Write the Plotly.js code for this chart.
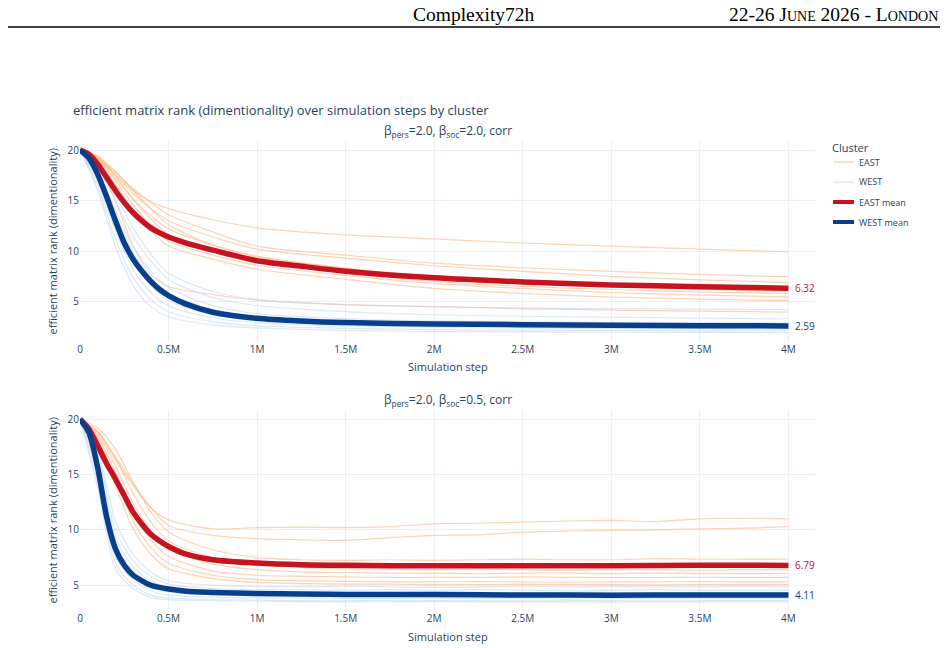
<!DOCTYPE html>
<html>
<head>
<meta charset="utf-8">
<script src="https://cdn.plot.ly/plotly-3.0.1.min.js"></script>
<style>
  html, body { margin: 0; padding: 0; background: #ffffff; }
  #chart { width: 948px; height: 648px; }
</style>
</head>
<body>
<div id="chart"></div>
<script>
// ---- simulation steps ----
const meanSteps = [0, 50000, 100000, 150000, 200000, 250000, 300000, 350000, 400000, 450000, 500000,
  600000, 750000, 1000000, 1250000, 1500000, 2000000, 2500000, 3000000, 3500000, 4000000];
const runStepsA = [0, 100000, 200000, 300000, 400000, 500000, 750000, 1000000, 1500000, 2000000,
  2500000, 3000000, 3500000, 4000000];
const runStepsB = [0, 100000, 200000, 300000, 400000, 500000, 750000, 1000000, 1250000, 1500000,
  1750000, 2000000, 2250000, 2500000, 2750000, 3000000, 3250000, 3500000, 3750000, 4000000];

// ---- panel A: beta_pers=2.0, beta_soc=2.0 ----
const eastMeanA = [20, 19.6, 18.6, 17.3, 16.0, 14.8, 13.8, 13.0, 12.3, 11.8, 11.4, 10.8, 10.1, 9.05, 8.5, 8.0, 7.35, 6.95, 6.65, 6.48, 6.32];
const westMeanA = [20, 19.2, 17.6, 15.4, 13.0, 10.8, 9.2, 8.0, 7.0, 6.2, 5.6, 4.75, 3.95, 3.35, 3.08, 2.92, 2.78, 2.72, 2.66, 2.62, 2.59];

const eastRunsA = [
  [20, 19.2, 17.6, 16.0, 14.9, 14.2, 13.1, 12.3, 11.6, 11.2, 10.8, 10.5, 10.2, 9.93],
  [20, 19.3, 17.8, 16.2, 14.8, 13.6, 11.9, 10.5, 9.6, 8.8, 8.35, 8.0, 7.7, 7.46],
  [20, 19.2, 17.5, 15.7, 14.2, 13.0, 11.4, 10.2, 9.3, 8.55, 8.0, 7.5, 7.15, 6.87],
  [20, 19.3, 17.4, 15.2, 13.5, 12.2, 10.6, 9.5, 8.3, 7.5, 7.0, 6.7, 6.5, 6.35],
  [20, 19.4, 17.9, 16.0, 14.2, 12.6, 10.6, 9.4, 8.3, 7.4, 6.9, 6.5, 6.2, 6.0],
  [20, 19.0, 17.2, 15.1, 13.2, 11.6, 10.0, 9.0, 7.9, 7.0, 6.5, 6.2, 5.95, 5.8],
  [20, 19.1, 17.0, 14.6, 12.5, 11.0, 9.6, 8.6, 7.6, 6.8, 6.3, 5.9, 5.65, 5.47],
  [20, 18.9, 16.6, 14.1, 12.0, 10.5, 9.2, 8.2, 7.2, 6.3, 5.8, 5.45, 5.25, 5.08],
  [20, 18.5, 15.0, 10.5, 7.7, 6.5, 5.7, 5.15, 4.7, 4.5, 4.3, 4.15, 4.05, 3.96]
];
const westRunsA = [
  [20, 18.5, 15.5, 12.3, 9.7, 7.8, 6.0, 5.2, 4.7, 4.5, 4.35, 4.3, 4.25, 4.2],
  [20, 18.3, 15.0, 11.5, 9.0, 7.2, 5.4, 4.6, 4.0, 3.7, 3.55, 3.45, 3.37, 3.3],
  [20, 17.8, 14.0, 10.5, 8.0, 6.4, 4.6, 3.8, 3.3, 3.1, 3.0, 2.95, 2.92, 2.9],
  [20, 17.6, 13.6, 9.9, 7.4, 5.8, 4.2, 3.5, 3.05, 2.9, 2.8, 2.75, 2.72, 2.7],
  [20, 17.2, 12.8, 9.0, 6.6, 5.1, 3.7, 3.1, 2.8, 2.65, 2.58, 2.54, 2.52, 2.5],
  [20, 16.8, 12.0, 8.2, 5.9, 4.6, 3.4, 2.9, 2.6, 2.45, 2.38, 2.34, 2.32, 2.3],
  [20, 16.4, 11.2, 7.4, 5.2, 4.0, 3.0, 2.6, 2.35, 2.22, 2.17, 2.13, 2.11, 2.1],
  [20, 16.0, 10.5, 6.6, 4.5, 3.5, 2.7, 2.4, 2.15, 2.05, 2.0, 1.97, 1.95, 1.93]
];

// ---- panel B: beta_pers=2.0, beta_soc=0.5 ----
const eastMeanB = [20, 19.1, 17.6, 16.0, 14.6, 13.1, 11.6, 10.5, 9.6, 9.0, 8.5, 7.8, 7.3, 7.0, 6.85, 6.8, 6.75, 6.75, 6.75, 6.8, 6.79];
const westMeanB = [20, 18.8, 15.6, 11.2, 8.3, 6.8, 5.9, 5.4, 5.0, 4.8, 4.65, 4.45, 4.35, 4.25, 4.2, 4.17, 4.15, 4.12, 4.1, 4.12, 4.11];

const eastRunsB = [
  [20, 18.8, 16.3, 14.0, 12.0, 10.9, 10.1, 10.2, 10.25, 10.2, 10.3, 10.55, 10.6, 10.7, 10.8, 10.85, 10.75, 11.0, 11.05, 11.0],
  [20, 18.9, 16.6, 14.2, 12.0, 10.4, 9.5, 9.2, 9.1, 9.05, 9.3, 9.5, 9.55, 9.8, 9.9, 9.95, 10.0, 10.1, 10.15, 10.3],
  [20, 19.2, 17.3, 14.3, 11.6, 9.8, 8.2, 7.5, 7.3, 7.25, 7.3, 7.25, 7.3, 7.35, 7.3, 7.3, 7.4, 7.35, 7.35, 7.35],
  [20, 18.9, 16.5, 13.3, 10.7, 9.0, 7.5, 6.9, 6.6, 6.5, 6.45, 6.4, 6.45, 6.4, 6.35, 6.4, 6.4, 6.35, 6.4, 6.38],
  [20, 18.6, 15.8, 12.4, 9.9, 8.3, 6.9, 6.4, 6.2, 6.15, 6.1, 6.1, 6.05, 6.1, 6.1, 6.05, 6.1, 6.05, 6.05, 6.06],
  [20, 18.4, 15.2, 11.6, 9.1, 7.6, 6.3, 5.9, 5.8, 5.75, 5.7, 5.72, 5.7, 5.75, 5.7, 5.7, 5.68, 5.72, 5.7, 5.7],
  [20, 18.2, 14.6, 10.8, 8.4, 7.0, 5.9, 5.5, 5.4, 5.35, 5.3, 5.3, 5.32, 5.3, 5.28, 5.3, 5.3, 5.32, 5.3, 5.3],
  [20, 17.9, 14.0, 10.1, 7.8, 6.5, 5.6, 5.25, 5.15, 5.1, 5.1, 5.05, 5.05, 5.08, 5.05, 5.05, 5.03, 5.05, 5.05, 5.05]
];
const westRunsB = [
  [20, 17.2, 10.8, 7.8, 6.2, 5.4, 5.0, 4.9, 4.85, 4.9, 4.85, 4.8, 4.85, 4.9, 4.85, 4.9, 4.85, 4.85, 4.9, 4.85],
  [20, 16.8, 10.0, 7.2, 5.8, 5.1, 4.7, 4.6, 4.6, 4.55, 4.6, 4.55, 4.6, 4.55, 4.5, 4.55, 4.6, 4.55, 4.55, 4.55],
  [20, 16.4, 9.3, 6.7, 5.4, 4.8, 4.5, 4.4, 4.4, 4.35, 4.35, 4.4, 4.35, 4.3, 4.35, 4.35, 4.3, 4.35, 4.35, 4.35],
  [20, 16.0, 8.7, 6.3, 5.1, 4.6, 4.3, 4.2, 4.2, 4.15, 4.2, 4.15, 4.15, 4.1, 4.15, 4.15, 4.1, 4.15, 4.15, 4.15],
  [20, 15.6, 8.2, 5.9, 4.8, 4.4, 4.15, 4.05, 4.05, 4.0, 4.0, 4.05, 4.0, 4.0, 3.95, 4.0, 4.0, 4.0, 3.95, 4.0],
  [20, 15.0, 7.6, 5.5, 4.5, 4.1, 3.9, 3.85, 3.85, 3.8, 3.8, 3.85, 3.8, 3.8, 3.75, 3.8, 3.8, 3.8, 3.8, 3.8],
  [20, 14.4, 7.0, 5.0, 4.1, 3.85, 3.7, 3.65, 3.6, 3.6, 3.6, 3.62, 3.6, 3.58, 3.6, 3.6, 3.58, 3.6, 3.6, 3.6],
  [20, 13.8, 6.5, 4.7, 3.9, 3.7, 3.6, 3.55, 3.52, 3.5, 3.5, 3.52, 3.5, 3.5, 3.5, 3.48, 3.5, 3.5, 3.5, 3.5]
];

const panelTitles = [
  'β<sub>pers</sub>=2.0, β<sub>soc</sub>=2.0, corr',
  'β<sub>pers</sub>=2.0, β<sub>soc</sub>=0.5, corr'
];
const legendNames = ['EAST', 'WEST', 'EAST mean', 'WEST mean'];

// ---- styling ----
const EAST_RUN = 'rgba(253,174,120,0.55)';
const WEST_RUN = 'rgba(189,215,240,0.55)';
const EAST_MEAN = '#c8121f';
const WEST_MEAN = '#083f8c';
const INK = '#2a3f5f';
const GRID = '#ebf0f8';
const MEAN_W = 5.5;

const traces = [];
function addPanel(xa, ya, runSteps, eastRuns, westRuns, eastMean, westMean) {
  eastRuns.forEach(ys => traces.push({
    type: 'scatter', mode: 'lines', x: runSteps, y: ys, xaxis: xa, yaxis: ya,
    name: legendNames[0], showlegend: false,
    line: { color: EAST_RUN, width: 1.2, shape: 'spline', smoothing: 0.8 }
  }));
  westRuns.forEach(ys => traces.push({
    type: 'scatter', mode: 'lines', x: runSteps, y: ys, xaxis: xa, yaxis: ya,
    name: legendNames[1], showlegend: false,
    line: { color: WEST_RUN, width: 1.2, shape: 'spline', smoothing: 0.8 }
  }));
  traces.push({
    type: 'scatter', mode: 'lines', x: meanSteps, y: eastMean, xaxis: xa, yaxis: ya,
    name: legendNames[2], showlegend: false,
    line: { color: EAST_MEAN, width: MEAN_W, shape: 'spline', smoothing: 0.8 }
  });
  traces.push({
    type: 'scatter', mode: 'lines', x: meanSteps, y: westMean, xaxis: xa, yaxis: ya,
    name: legendNames[3], showlegend: false,
    line: { color: WEST_MEAN, width: MEAN_W, shape: 'spline', smoothing: 0.8 }
  });
}
addPanel('x', 'y', runStepsA, eastRunsA, westRunsA, eastMeanA, westMeanA);
addPanel('x2', 'y2', runStepsB, eastRunsB, westRunsB, eastMeanB, westMeanB);

// plot area in pixels: left 80, right 815, top 141, bottom 611
const px = v => (v - 80) / 735;
const py = v => (611 - v) / 470;
const topDomain = [py(342), 1];
const botDomain = [0, py(410)];

const annotations = [];
const shapes = [];

// value labels at the end of each mean line
[[eastMeanA, EAST_MEAN, 'x', 'y'], [westMeanA, WEST_MEAN, 'x', 'y'],
 [eastMeanB, EAST_MEAN, 'x2', 'y2'], [westMeanB, WEST_MEAN, 'x2', 'y2']].forEach(([ys, c, xr, yr]) => {
  annotations.push({
    xref: xr, yref: yr, x: meanSteps[meanSteps.length - 1], y: ys[ys.length - 1],
    text: ys[ys.length - 1].toFixed(2), showarrow: false, xanchor: 'left', xshift: 5,
    font: { size: 10, color: c }
  });
});

// panel titles
annotations.push({ xref: 'paper', yref: 'paper', x: 0.5, y: topDomain[1], yanchor: 'bottom', yshift: -1,
  text: panelTitles[0], showarrow: false, font: { size: 12, color: INK } });
annotations.push({ xref: 'paper', yref: 'paper', x: 0.5, y: botDomain[1], yanchor: 'bottom', yshift: -1,
  text: panelTitles[1], showarrow: false, font: { size: 12, color: INK } });

// axis titles
[[py(366)], [py(636)]].forEach(([y]) => annotations.push({
  xref: 'paper', yref: 'paper', x: 0.5, y: y, yanchor: 'middle', showarrow: false,
  text: 'Simulation step', font: { size: 11, color: INK }
}));
[topDomain, botDomain].forEach(d => annotations.push({
  xref: 'paper', yref: 'paper', x: px(52), y: (d[0] + d[1]) / 2, xanchor: 'center', yanchor: 'middle',
  textangle: -90, showarrow: false,
  text: 'efficient matrix rank (dimentionality)', font: { size: 11, color: INK }
}));

// legend
annotations.push({ xref: 'paper', yref: 'paper', x: px(830), y: py(148), xanchor: 'left', yanchor: 'middle',
  showarrow: false, text: 'Cluster', font: { size: 11, color: INK } });
const legendStyles = [
  { color: EAST_RUN, width: 1.5 }, { color: WEST_RUN, width: 1.5 },
  { color: EAST_MEAN, width: 4 }, { color: WEST_MEAN, width: 4 }
];
legendNames.forEach((name, i) => {
  const yy = py(162 + 20 * i);
  shapes.push({ type: 'line', xref: 'paper', yref: 'paper', x0: px(833), x1: px(854), y0: yy, y1: yy,
    line: legendStyles[i] });
  annotations.push({ xref: 'paper', yref: 'paper', x: px(857), y: yy, xanchor: 'left', yanchor: 'middle',
    showarrow: false, text: name, font: { size: 9, color: INK } });
});

// running header
annotations.push({ xref: 'paper', yref: 'paper', x: px(474), y: py(14), yanchor: 'middle',
  text: 'Complexity72h', showarrow: false,
  font: { family: 'Liberation Serif, Times New Roman, serif', size: 19.5, color: '#000000' } });
annotations.push({ xref: 'paper', yref: 'paper', x: px(940), y: py(14), xanchor: 'right', yanchor: 'middle',
  text: '22-26 June 2026 - London', showarrow: false,
  font: { family: 'Liberation Serif, Times New Roman, serif', size: 19.5, color: '#000000', variant: 'small-caps' } });
shapes.push({ type: 'line', xref: 'paper', yref: 'paper', x0: px(8), x1: px(940), y0: py(27), y1: py(27),
  line: { color: '#000000', width: 1.3 } });

const axisCommon = {
  gridcolor: GRID, zeroline: false, showline: false, ticks: '',
  tickfont: { size: 10, color: INK }
};

const layout = {
  width: 948, height: 648,
  paper_bgcolor: '#ffffff', plot_bgcolor: '#ffffff',
  font: { family: 'Open Sans, Verdana, Arial, sans-serif', color: INK, size: 11 },
  margin: { l: 80, r: 133, t: 141, b: 37, autoexpand: false },
  title: {
    text: 'efficient matrix rank (dimentionality) over simulation steps by cluster',
    xref: 'container', x: 0.077, xanchor: 'left', yref: 'container', y: 0.830, yanchor: 'middle',
    font: { size: 13, color: INK }
  },
  showlegend: false,
  xaxis: Object.assign({}, axisCommon, { domain: [0, 1], anchor: 'y', range: [0, 4150000], dtick: 500000 }),
  yaxis: Object.assign({}, axisCommon, { domain: topDomain, anchor: 'x', range: [1.0, 20.9], dtick: 5 }),
  xaxis2: Object.assign({}, axisCommon, { domain: [0, 1], anchor: 'y2', range: [0, 4150000], dtick: 500000 }),
  yaxis2: Object.assign({}, axisCommon, { domain: botDomain, anchor: 'x2', range: [2.67, 20.83], dtick: 5 }),
  annotations: annotations,
  shapes: shapes
};

Plotly.newPlot('chart', traces, layout, { displayModeBar: false, staticPlot: true });
</script>
</body>
</html>
